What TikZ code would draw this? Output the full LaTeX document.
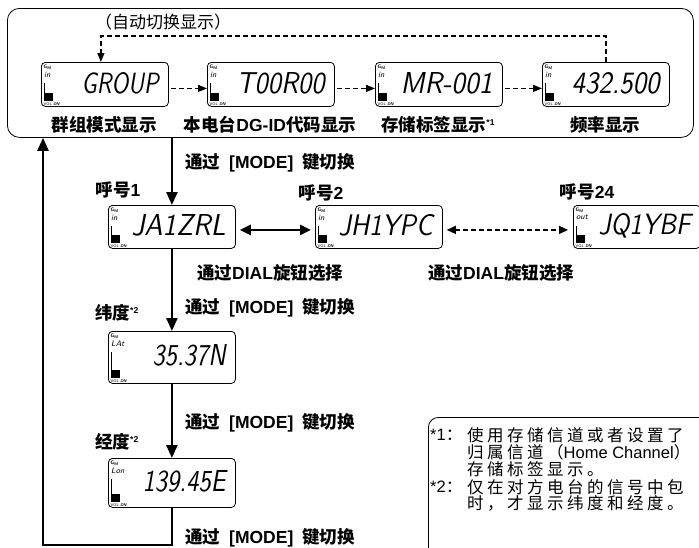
\documentclass[tikz,border=0pt]{standalone}
\usepackage{fontspec}
\newfontfamily\cjk{Noto Sans CJK SC}
\newfontfamily\lat{Liberation Sans}
\usetikzlibrary{arrows.meta,calc}

\newcommand\trk[1]{\trkloop#1\relax}
\def\trkloop#1{\ifx#1\relax\else#1\hskip3.5pt\relax\expandafter\trkloop\fi}
\newcommand\supmark[1]{\raisebox{6pt}{\lat\bfseries\fontsize{8.5}{8.5}\selectfont #1}}
\newcommand\modetxt{通过\hspace{9pt}{\lat[MODE]}\hspace{9pt}键切换}

\tikzset{
 lcd/.style={draw, line width=0.8pt, rounded corners=4pt, minimum width=127pt, inner sep=0pt, anchor=north west},
 lab/.style={font=\cjk\bfseries\fontsize{17.5}{19}\selectfont, inner sep=0pt},
 note/.style={font=\cjk\fontsize{16.5}{17}\selectfont, inner sep=0pt, anchor=west},
 tinytxt/.style={inner sep=0pt},
 solidarr/.style={line width=2.4pt, -{Triangle[length=13pt,width=11pt]}},
 retline/.style={line width=2.2pt, -{Triangle[length=13pt,width=11pt]}},
 dasharr/.style={line width=1.3pt, dash pattern=on 5pt off 3pt, -{Triangle[length=9pt,width=7pt]}},
 dashdbl/.style={line width=1.3pt, dash pattern=on 5pt off 3pt, {Triangle[length=9pt,width=8pt]}-{Triangle[length=9pt,width=8pt]}},
 soliddbl/.style={line width=2.4pt, {Triangle[length=11pt,width=10pt]}-{Triangle[length=11pt,width=10pt]}},
}

\newcommand\lcd[7]{%
 \node[lcd, minimum height=#4pt] (#1) at (#2,#3) {};
 \node[tinytxt, anchor=north west, font=\sffamily\bfseries\fontsize{5}{5}\selectfont] (#1gm) at ([shift={(2.5pt,-3pt)}]#1.north west) {G\raisebox{-0.8pt}{\fontsize{4}{4}\selectfont M}};
 \node[tinytxt, anchor=north west, font=\sffamily\itshape\fontsize{8}{8}\selectfont] (#1in) at ([shift={(3pt,-10pt)}]#1.north west) {#5};
 \draw[line width=0.9pt] ([shift={(3pt,-21pt)}]#1.north west) -- ([shift={(3pt,6pt)}]#1.south west);
 \fill ([shift={(4pt,6pt)}]#1.south west) rectangle ++(8pt,8pt);
 \node[tinytxt, anchor=south west, font=\sffamily\fontsize{4}{4}\selectfont] (#1vol) at ([shift={(2.5pt,1pt)}]#1.south west) {VOL \textit{\bfseries DN}};
 \node[tinytxt, anchor=east] (#1txt) at ($(#1.north east)!0.47!(#1.south east)+(-10pt,0pt)$) {\resizebox{#7pt}{21pt}{\sffamily\slshape #6}};
}

\begin{document}
\begin{tikzpicture}[x=1pt,y=-1pt]
\useasboundingbox (0,0) rectangle (699,547);
\clip (0,0) rectangle (699,547);
\fill[white] (0,0) rectangle (699,547);

% top group
\node[draw, line width=0.8pt, rounded corners=12pt, minimum width=686pt, minimum height=129pt, anchor=north west, inner sep=0pt] (topbox) at (7,8) {};
\node[font=\cjk\fontsize{17}{19}\selectfont, inner sep=0pt] (auto) at (163,22) {（自动切换显示）};

\lcd{f1}{41}{62}{44}{in}{GROUP}{77}
\lcd{f2}{207}{62}{44}{in}{T00R00}{88}
\lcd{f3}{375}{62}{44}{in}{MR-001}{92}
\lcd{f4}{542}{62}{44}{in}{432.500}{88}

\node[lab] (l1) at (104,125) {群组模式显示};
\node[lab] (l2) at (270,125) {本电台{\lat DG-ID}代码显示};
\node[lab] (l3) at (438,125) {存储标签显示\supmark{*1}};
\node[lab] (l4) at (605,125) {频率显示};

\coordinate (autoline) at (350,36);
\draw[dasharr] (f4.north) |- (autoline) -| ([xshift=-4pt]f1.north);
\draw[dasharr, shorten <=2pt] ([yshift=-4pt]f1.east) -- ([yshift=-4pt]f2.west);
\draw[dasharr, shorten <=2pt] ([yshift=-4pt]f2.east) -- ([yshift=-4pt]f3.west);
\draw[dasharr, shorten <=2pt] ([yshift=-4pt]f3.east) -- ([yshift=-4pt]f4.west);

% call signs
\lcd{c1}{108}{205}{43}{in}{JA1ZRL}{94}
\lcd{c2}{315}{205}{43}{in}{JH1YPC}{94}
\lcd{c24}{573}{205}{43}{out}{JQ1YBF}{92}

\node[lab, anchor=west] (m1) at (185,163) {\modetxt};
\node[lab] (h1) at (118,190) {呼号{\lat 1}};
\node[lab] (h2) at (321,193) {呼号{\lat 2}};
\node[lab] (h24) at (587,192) {呼号{\lat 24}};

\draw[solidarr] (topbox.south -| c1.north) -- (c1.north);
\draw[soliddbl, shorten <=4pt, shorten >=4pt] ([yshift=-3pt]c1.east) -- ([yshift=-3pt]c2.west);
\draw[dashdbl, shorten <=4pt, shorten >=5pt] ([yshift=-3pt]c2.east) -- ([yshift=-3pt]c24.west);

\node[lab, anchor=west] (d1) at (197,273) {通过{\lat DIAL}旋钮选择};
\node[lab, anchor=west] (d2) at (428,273) {通过{\lat DIAL}旋钮选择};

% latitude / longitude
\lcd{lat}{108}{331}{52}{LAt}{35.37N}{73}
\lcd{lon}{108}{458}{49}{Lon}{139.45E}{83}

\node[lab, anchor=west] (m2) at (185,308) {\modetxt};
\node[lab, anchor=west] (wd) at (95,313) {纬度\supmark{*2}};
\node[lab, anchor=west] (m3) at (185,423) {\modetxt};
\node[lab, anchor=west] (jd) at (95,442) {经度\supmark{*2}};
\node[lab, anchor=west] (m4) at (185,538) {\modetxt};

\draw[solidarr] (c1.south) -- (lat.north);
\draw[solidarr] (lat.south) -- (lon.north);

\coordinate (botL) at (43,545);
\draw[retline] (lon.south) |- (botL) -- (botL |- topbox.south);

% notes
\node[draw, line width=0.8pt, rounded corners=10pt, anchor=north west, minimum width=300pt, minimum height=150pt, inner sep=0pt] (notebox) at (428,417) {};
\node[note] (n1a) at (430,435) {{\lat *1}：};
\node[note] (n1b) at (467,435) {\trk{使用存储信道或者设置了}};
\node[note] (n1c) at (467,452) {\trk{归属信道}（{\lat Home Channel}）};
\node[note] (n1d) at (467,469) {\trk{存储标签显示。}};
\node[note] (n2a) at (430,487) {{\lat *2}：};
\node[note] (n2b) at (467,487) {\trk{仅在对方电台的信号中包}};
\node[note] (n2c) at (467,503) {\trk{时，才显示纬度和经度。}};
\end{tikzpicture}
\end{document}
